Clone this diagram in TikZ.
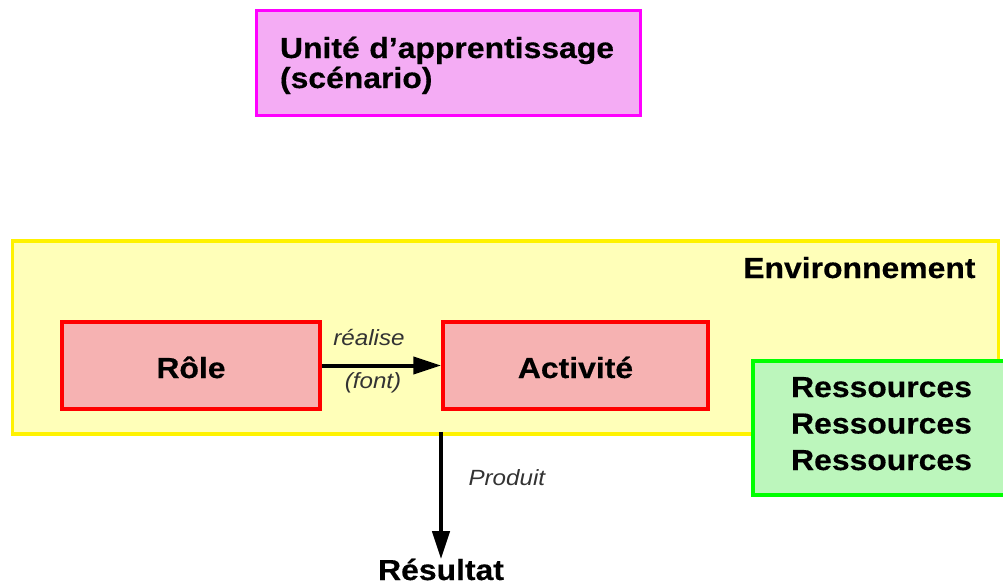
\documentclass[tikz,border=0pt]{standalone}
\usepackage{fontspec}
\usetikzlibrary{arrows.meta}
\newfontfamily\bfont[FakeStretch=1.1,FakeBold=0.4]{Liberation Sans Bold}
\newfontfamily\ifont[FakeStretch=1.1]{Liberation Sans Italic}
\definecolor{pinkfill}{RGB}{244,172,244}
\definecolor{yelfill}{RGB}{255,255,185}
\definecolor{redfill}{RGB}{246,178,178}
\definecolor{grnfill}{RGB}{188,246,188}
\definecolor{magborder}{RGB}{255,0,255}
\definecolor{grnborder}{RGB}{0,255,0}
\tikzset{
  box/.style={draw, line width=3.5pt, inner sep=0pt},
  btext/.style={font=\bfont\fontsize{29}{35}\selectfont, text=black},
  itext/.style={font=\ifont\fontsize{22}{25}\selectfont, text=black!80},
  arr/.style={line width=4pt, -{Triangle[length=28pt,width=17pt]}},
}
\begin{document}
\begin{tikzpicture}[x=1pt,y=-1pt]
\useasboundingbox (0,0) rectangle (1003,584);
% title
\node[box, draw=magborder, fill=pinkfill, line width=3pt,
      minimum width=384pt, minimum height=105pt, text width=336pt, align=left,
      text height=22pt, text depth=31pt,
      text=black, font=\bfont\fontsize{29}{30}\selectfont] (unit) at (448,62.5)
  {Unité d’apprentissage\\(scénario)};
% environment
\node[box, draw=yellow, fill=yelfill, minimum width=986pt, minimum height=193pt] (env) at (505.5,337.5) {};
\node[btext, anchor=base east] (envlbl) at (979,278) {Environnement};
% role & activity
\node[box, draw=red, fill=redfill, minimum width=258pt, minimum height=87pt, btext,
      text height=25pt, text depth=0pt] (role) at (191,365.5) {Rôle};
\node[box, draw=red, fill=redfill, minimum width=265pt, minimum height=87pt, btext,
      text height=25pt, text depth=0pt] (act) at (575.5,365.5) {Activité};
% resources
\node[box, draw=grnborder, fill=grnfill, minimum width=257pt, minimum height=134pt,
      btext, align=center, font=\bfont\fontsize{29}{36.5}\selectfont,
      text height=94pt, text depth=10pt] (res) at (881.5,428)
  {Ressources\\Ressources\\Ressources};
% result
\node[btext, anchor=base] (result) at (441,580) {Résultat};
% arrows
\draw[arr] (role.east) -- (act.west);
\node[itext, anchor=base] (realise) at (369,345) {réalise};
\node[itext, anchor=base] (font) at (373,388) {(font)};
\coordinate (pstart) at ([yshift=4pt]act.south west |- env.south);
\draw[arr] (pstart -| result) -- ([yshift=-4pt]result.north);
\node[itext, anchor=base west] (produit) at (465,485) {Produit};
\end{tikzpicture}
\end{document}
